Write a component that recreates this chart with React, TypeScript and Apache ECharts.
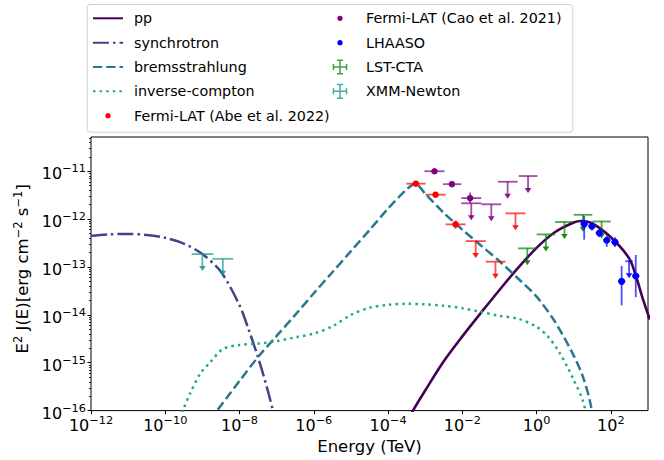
import React, { useEffect, useRef } from 'react';
import * as echarts from 'echarts';

const FONT = 'DejaVu Sans';

// Model curves: [E (TeV), E^2 J(E) (erg cm^-2 s^-1)]
const ppCurve = [
  [3.16e-4, 5.62e-17], [4.68e-4, 1e-16], [1e-3, 2.63e-16], [3.16e-3, 1.07e-15], [1e-2, 3.55e-15],
  [3.16e-2, 1.1e-14], [0.1, 3.31e-14], [0.316, 9.55e-14], [1, 2.51e-13], [3.16, 5.37e-13],
  [10, 8.51e-13], [15.8, 9.12e-13], [31.6, 8.13e-13], [100, 4.17e-13], [316, 1.48e-13],
  [501, 5.62e-14], [708, 2.29e-14], [1122, 7.94e-15],
];
const synchrotronCurve = [
  [1e-12, 4.47e-13], [3.16e-12, 4.79e-13], [1e-11, 4.9e-13], [3.16e-11, 4.68e-13], [1e-10, 4.07e-13],
  [3.16e-10, 3.09e-13], [1e-9, 1.86e-13], [3.16e-9, 7.94e-14], [1e-8, 1.58e-14], [1.78e-8, 4.79e-15],
  [3.16e-8, 1.29e-15], [5.62e-8, 2.82e-16], [1e-7, 5.0e-17],
];
const bremsCurve = [
  [1.58e-9, 6.3e-17], [1e-8, 4.17e-16], [3.16e-8, 1.32e-15], [1e-7, 3.63e-15], [3.16e-7, 1e-14],
  [1e-6, 2.82e-14], [3.16e-6, 7.76e-14], [1e-5, 2.14e-13], [3.16e-5, 5.89e-13], [1e-4, 1.66e-12],
  [3.16e-4, 4.17e-12], [5.4e-4, 5.5e-12], [1e-3, 3.39e-12], [3.16e-3, 1.35e-12], [1e-2, 6.03e-13],
  [3.16e-2, 2.82e-13], [0.1, 1.32e-13], [0.316, 5.75e-14], [1, 2.4e-14], [3.16, 7.08e-15],
  [10, 1.41e-15], [17.8, 5.01e-16], [28.2, 1.41e-16], [35.5, 3.98e-17],
];
const icCurve = [
  [2e-10, 5.01e-17], [2.95e-10, 1e-16], [4.68e-10, 2.29e-16], [8.71e-10, 5.89e-16], [1.62e-9, 1.02e-15],
  [3.63e-9, 1.95e-15], [1e-8, 2.34e-15], [3.16e-8, 2.51e-15], [1e-7, 2.82e-15], [3.16e-7, 3.39e-15],
  [1e-6, 4.07e-15], [3.16e-6, 5.75e-15], [1e-5, 1e-14], [3.16e-5, 1.41e-14], [1e-4, 1.62e-14],
  [3.16e-4, 1.7e-14], [1e-3, 1.66e-14], [3.16e-3, 1.55e-14], [1e-2, 1.38e-14], [3.16e-2, 1.15e-14],
  [0.1, 9.55e-15], [0.316, 8.32e-15], [1, 5.62e-15], [2, 3.55e-15], [4, 1.7e-15], [7.08, 7.59e-16],
  [10, 4.37e-16], [17.4, 1.66e-16], [25.1, 5.01e-17],
];

// Measurements: detections [E, F, Elow, Ehigh, Flow, Fhigh]; upper limits [E, F, Elow, Ehigh]
const abeDetections = [
  [5.62e-4, 5.5e-12, 3.09e-4, 1.02e-3, 5.0e-12, 6.0e-12],
  [1.9e-3, 3.24e-12, 1.02e-3, 3.55e-3, 2.9e-12, 3.6e-12],
  [6.6e-3, 7.76e-13, 3.55e-3, 1.23e-2, 6.3e-13, 9.3e-13],
];
const abeLimits = [
  [2.29e-2, 3.47e-13, 1.23e-2, 4.27e-2],
  [7.8e-2, 1.29e-13, 4.27e-2, 0.145],
  [0.27, 1.32e-12, 0.145, 0.5],
];
const caoDetections = [
  [1.78e-3, 1.0e-11, 9.55e-4, 3.31e-3, 9.0e-12, 1.1e-11],
  [5.25e-3, 5.37e-12, 3.02e-3, 9.33e-3, 4.9e-12, 5.9e-12],
  [1.62e-2, 2.75e-12, 9.33e-3, 3.24e-2, 2.14e-12, 3.59e-12],
];
const caoLimits = [
  [1.74e-2, 2.14e-12, 9.33e-3, 3.24e-2],
  [6.03e-2, 2.04e-12, 3.24e-2, 0.112],
  [0.166, 6.03e-12, 9.12e-2, 0.309],
  [0.589, 7.94e-12, 0.331, 1.05],
];
const lstLimits = [
  [0.562, 2.45e-13, 0.316, 1.0],
  [1.78, 4.79e-13, 1.0, 3.16],
  [5.62, 8.71e-13, 3.16, 10],
  [17.8, 1.23e-12, 10, 31.6],
  [56.2, 8.91e-13, 31.6, 100],
];
const lhaasoDetections = [
  [19.1, 7.94e-13, 15.2, 24.0, 3.72e-13, 1.17e-12],
  [30.9, 7.08e-13, 24.5, 38.9, 5.75e-13, 8.71e-13],
  [49.0, 5.13e-13, 38.9, 61.7, 4.2e-13, 6.2e-13],
  [77.6, 3.63e-13, 61.7, 97.7, 2.63e-13, 4.57e-13],
  [129, 3.31e-13, 102, 162, 2.63e-13, 4.17e-13],
  [195, 5.01e-14, 155, 245, 1.58e-14, 1.05e-13],
  [468, 6.46e-14, 372, 589, 2.34e-14, 1.78e-13],
];
const lhaasoLimits = [[309, 1.32e-13, 245, 389]];
const xmmLimits = [
  [1e-9, 1.86e-13, 5.13e-10, 2e-9],
  [3.55e-9, 1.48e-13, 1.86e-9, 6.76e-9],
];

// Axes
const X_MIN = 1e-12;
const X_MAX = 1e3;
const Y_MIN = 1e-16;
const Y_MAX = 5.19e-11;
const xTicks = [1e-12, 1e-10, 1e-8, 1e-6, 1e-4, 1e-2, 1, 1e2];
const yTicks = [1e-16, 1e-15, 1e-14, 1e-13, 1e-12, 1e-11];
const minorSubs = [2, 3, 4, 5, 6, 7, 8, 9];
const yMinorTicks: number[] = [];
yTicks.forEach((d) => minorSubs.forEach((s) => { if (s * d < Y_MAX) yMinorTicks.push(s * d); }));

const DOT_ICON = 'path://M0 0L0.01 0Z M30 16L29.99 16Z M17.6 8A2.6 2.6 0 1 0 12.4 8A2.6 2.6 0 1 0 17.6 8Z';
const ERR_ICON =
  'path://M0 0L0.01 0Z M30 16L29.99 16Z M7.7 7.25H22.3V8.75H7.7Z M14.25 0.4H15.75V15.6H14.25Z ' +
  'M12 0.4H18V1.9H12Z M12 14.1H18V15.6H12Z M7.7 5H9.2V11H7.7Z M20.8 5H22.3V11H20.8Z';

const tickLabel = (v: number) => {
  const e = Math.round(Math.log10(v));
  if (Math.abs(Math.log10(v) - e) > 0.01) return '';
  return `{b|10}{s|${e < 0 ? '\u2212' + -e : e}}`;
};
const labelRich = {
  b: { fontFamily: FONT, fontSize: 16, lineHeight: 16, padding: [5, 0, 0, 0], color: '#000' },
  s: { fontFamily: FONT, fontSize: 11.3, lineHeight: 11.3, verticalAlign: 'top', color: '#000' },
};

const ERR_W = 1.8;
function barsRenderer(color: string) {
  return function (_params: any, api: any) {
    const xc = api.value(0), y = api.value(1), xl = api.value(2), xh = api.value(3);
    const yl = api.value(4), yh = api.value(5), ul = api.value(6);
    const c = api.coord([xc, y]);
    const l = api.coord([xl, y]);
    const h = api.coord([xh, y]);
    const st = { stroke: color, lineWidth: ERR_W, opacity: 0.7 };
    const children: any[] = [
      { type: 'line', shape: { x1: l[0], y1: l[1], x2: h[0], y2: h[1] }, style: st },
    ];
    if (ul) {
      children.push({ type: 'line', shape: { x1: c[0], y1: c[1], x2: c[0], y2: c[1] + 13 }, style: st });
      children.push({
        type: 'polygon',
        shape: { points: [[c[0] - 3.3, c[1] + 12], [c[0] + 3.3, c[1] + 12], [c[0], c[1] + 17]] },
        style: { fill: color, opacity: 0.9 },
      });
    } else {
      const a = api.coord([xc, yl]);
      const b = api.coord([xc, yh]);
      children.push({ type: 'line', shape: { x1: a[0], y1: a[1], x2: b[0], y2: b[1] }, style: st });
    }
    return { type: 'group', children };
  };
}
const toBars = (det: number[][], lim: number[][]) => [
  ...det.map((r) => [r[0], r[1], r[2], r[3], r[4], r[5], 0]),
  ...lim.map((r) => [r[0], r[1], r[2], r[3], r[1], r[1], 1]),
];

export default function App() {
  const ref = useRef<HTMLDivElement>(null);
  useEffect(() => {
    if (!ref.current) return;
    const chart = echarts.init(ref.current, undefined, { renderer: 'svg' });
    const lineSeries = (name: string, data: number[][], color: string, type: any, width: number) => ({
      type: 'line', name, data, symbol: 'none', showSymbol: false, smooth: 0.3, clip: true, silent: true,
      lineStyle: { color, width, type }, itemStyle: { color }, z: 2,
    });
    const customSeries = (name: string, data: number[][], color: string, legendColor: string) => ({
      type: 'custom', name, data, renderItem: barsRenderer(color), encode: { x: 0, y: 1 },
      itemStyle: { color: legendColor }, clip: false, silent: true, z: 3,
    });
    const scatter = (name: string, det: number[][], color: string, size: number) => ({
      type: 'scatter', name, data: det.map((r) => [r[0], r[1]]), symbol: 'circle', symbolSize: size,
      itemStyle: { color, opacity: 1 }, silent: true, z: 4,
    });
    const lineEntry = (name: string) => ({ name, itemStyle: { opacity: 0 } });
    const legendCommon = {
      orient: 'vertical', top: 10.3, itemWidth: 30, itemHeight: 16, itemGap: 8.35, padding: 0,
      selectedMode: false,
      textStyle: { fontFamily: FONT, fontSize: 14.3, color: '#000', lineHeight: 16, padding: [0, 0, 0, 6] },
    };
    chart.setOption({
      animation: false,
      backgroundColor: '#fff',
      textStyle: { fontFamily: FONT },
      grid: { left: 91, top: 137, width: 557, height: 277, show: true, borderColor: '#000', borderWidth: 1, backgroundColor: 'transparent' },
      graphic: [
        { type: 'rect', left: 86.7, top: 4, shape: { width: 485.6, height: 127.7, r: 3 }, style: { fill: 'rgba(255,255,255,0.8)', stroke: '#d0d0d0', lineWidth: 1 }, z: 0 },
      ],
      legend: [
        {
          ...legendCommon, left: 92,
          data: [
            lineEntry('pp'), lineEntry('synchrotron'), lineEntry('bremsstrahlung'), lineEntry('inverse-compton'),
            { name: 'Fermi-LAT (Abe et al. 2022)', icon: DOT_ICON },
          ],
        },
        {
          ...legendCommon, left: 325,
          data: [
            { name: 'Fermi-LAT (Cao et al. 2021)', icon: DOT_ICON },
            { name: 'LHAASO', icon: DOT_ICON },
            { name: 'LST-CTA', icon: ERR_ICON },
            { name: 'XMM-Newton', icon: ERR_ICON },
          ],
        },
      ],
      xAxis: {
        type: 'log', logBase: 10, min: X_MIN, max: X_MAX,
        axisLine: { show: false }, splitLine: { show: false },
        axisTick: { show: true, customValues: xTicks, length: 3.5, lineStyle: { color: '#000', width: 1 } },
        axisLabel: { customValues: xTicks, formatter: tickLabel, margin: 4, rich: labelRich },
        name: 'Energy (TeV)', nameLocation: 'middle', nameGap: 25,
        nameTextStyle: { fontFamily: FONT, fontSize: 16.5, color: '#000' },
      },
      yAxis: [
        {
          type: 'log', logBase: 10, min: Y_MIN, max: Y_MAX, position: 'left',
          axisLine: { show: false }, splitLine: { show: false },
          axisTick: { show: true, customValues: yTicks, length: 3.5, lineStyle: { color: '#000', width: 1 } },
          axisLabel: { customValues: yTicks, formatter: tickLabel, margin: 5, rich: labelRich },
          name: '{n|E}{s|2}{n| J(E)[erg cm}{s|\u22122}{n| s}{s|\u22121}{n|]}',
          nameLocation: 'middle', nameGap: 55, nameRotate: 90,
          nameTextStyle: {
            fontFamily: FONT, fontSize: 16.5, color: '#000', padding: [0, 0, 0, 10],
            rich: {
              n: { fontFamily: FONT, fontSize: 16.5, lineHeight: 16.5, padding: [5, 0, 0, 0], color: '#000' },
              s: { fontFamily: FONT, fontSize: 11.5, lineHeight: 11.5, verticalAlign: 'top', color: '#000' },
            },
          },
        },
        {
          type: 'log', logBase: 10, min: Y_MIN, max: Y_MAX, position: 'left', offset: 0,
          axisLine: { show: false }, splitLine: { show: false }, axisLabel: { show: false },
          axisTick: { show: true, customValues: yMinorTicks, length: 2, lineStyle: { color: '#000', width: 0.8 } },
        },
      ],
      series: [
        lineSeries('pp', ppCurve, '#440154', 'solid', 2.6),
        lineSeries('synchrotron', synchrotronCurve, '#414487', [16, 4, 2.5, 4], 2.5),
        lineSeries('bremsstrahlung', bremsCurve, '#2a788e', [9.25, 4], 2.5),
        lineSeries('inverse-compton', icCurve, '#22a884', [2.5, 4.1], 2.5),
        customSeries('abe-bars', toBars(abeDetections, abeLimits), '#ff0000', '#ff0000'),
        customSeries('cao-bars', toBars(caoDetections, caoLimits), '#800080', '#800080'),
        customSeries('LST-CTA', toBars([], lstLimits), '#008000', 'rgba(0,128,0,0.75)'),
        customSeries('lhaaso-bars', toBars(lhaasoDetections, lhaasoLimits), '#0000ff', '#0000ff'),
        customSeries('XMM-Newton', toBars([], xmmLimits), '#1a9690', 'rgba(26,150,144,0.8)'),
        scatter('Fermi-LAT (Abe et al. 2022)', abeDetections, '#ff0000', 6.5),
        scatter('Fermi-LAT (Cao et al. 2021)', caoDetections, '#800080', 6.5),
        scatter('LHAASO', lhaasoDetections, '#0000ff', 7),
      ],
    });
    return () => chart.dispose();
  }, []);
  return <div ref={ref} style={{ position: 'fixed', left: 0, top: 0, width: 664, height: 460 }} />;
}
